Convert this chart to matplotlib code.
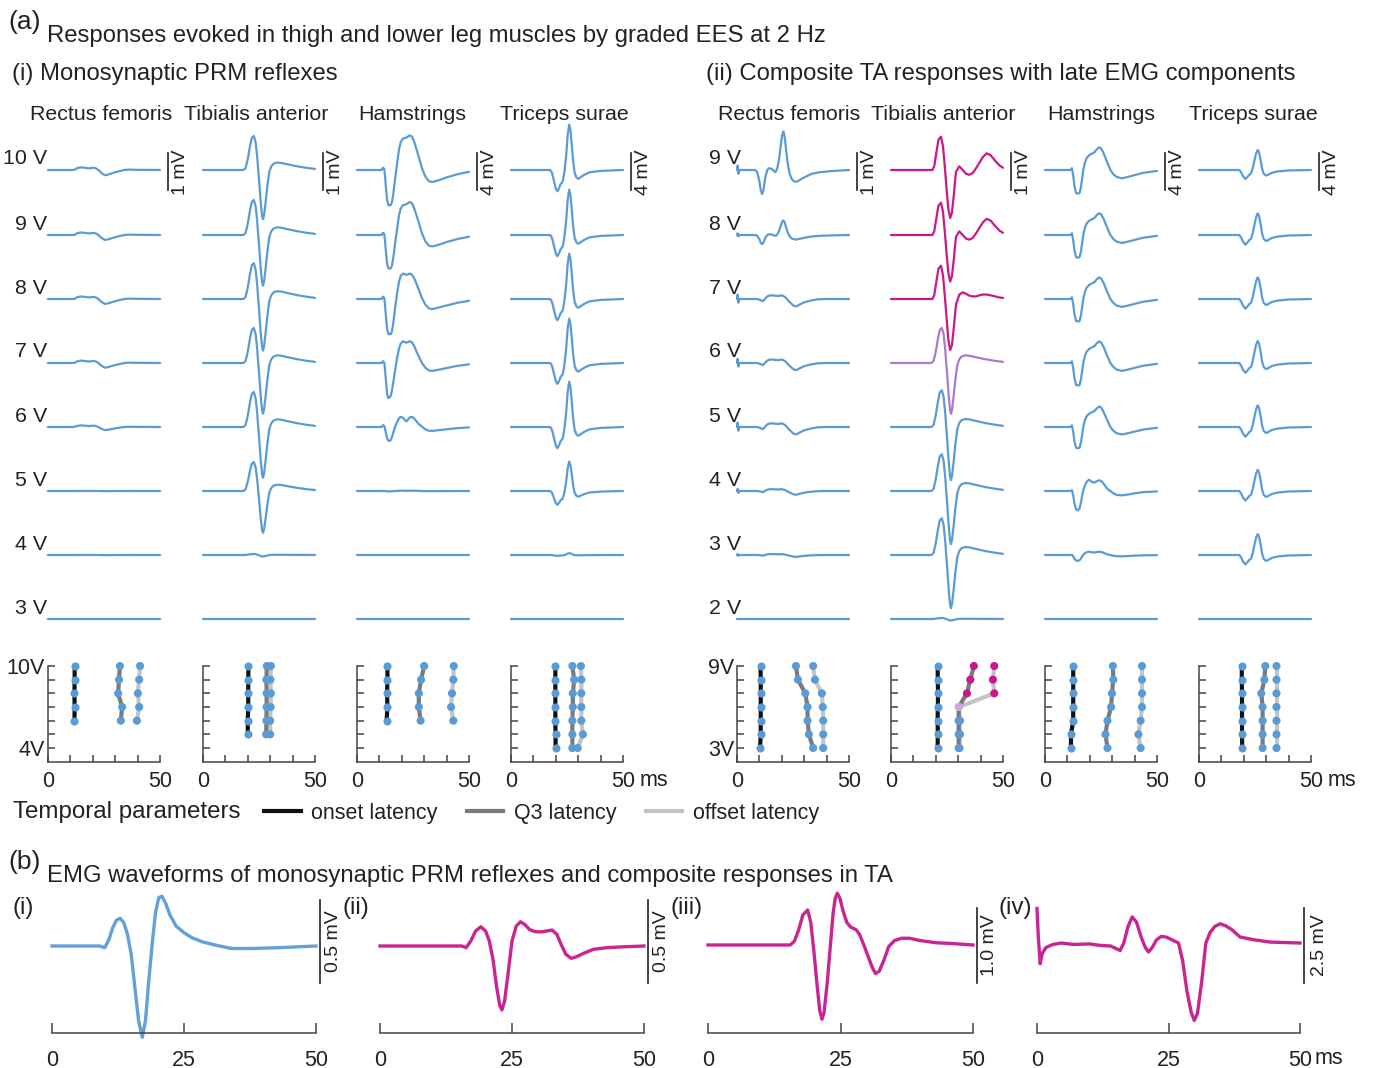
import matplotlib.pyplot as plt

plt.rcParams['font.family'] = ['Liberation Sans', 'DejaVu Sans']

W, H = 1374, 1068
BLUE = '#5b9bd5'
MAG = '#c8188c'
LAV = '#a97cc9'
LAV_DOT = '#cfa6e6'
INK = '#222222'

# ---------------- (a) waveform templates: time (ms), amplitude (mV) ----------------
VOLTS_I = [10, 9, 8, 7, 6, 5, 4, 3]
VOLTS_II = [9, 8, 7, 6, 5, 4, 3, 2]

RF_I_T = [0, 11, 12, 13, 14.5, 16, 17.5, 18.5, 19.5, 20.5, 21.5, 22.5, 23.5, 24.5, 25.5, 26.5, 28, 30, 32, 34, 36, 40, 50]
RF_I_V = [0, 0, 0.01, 0.05, 0.07, 0.065, 0.05, 0.045, 0.055, 0.06, 0.04, 0.0, -0.06, -0.11, -0.14, -0.13,
          -0.1, -0.06, -0.03, 0.0, 0.01, 0.005, 0]
RF_I_ROWS = [('A', 1.0), ('A', 0.95), ('A', 0.95), ('A', 0.9), ('A', 0.6), ('A', 0.02), ('A', 0.02), ('A', 0.0)]

TA_I_T = [0, 18, 19, 20, 21, 21.8, 22.7, 23.5, 24.2, 25, 25.8, 26.4, 26.8, 27.3, 28, 28.8, 29.6, 30.5,
          31.5, 33, 35, 38, 42, 46, 50]
TA_I_V = [0, 0, 0.05, 0.3, 0.65, 0.87, 0.92, 0.75, 0.35, -0.25, -0.9, -1.25, -1.33, -1.2, -0.85, -0.4,
          -0.05, 0.1, 0.17, 0.2, 0.19, 0.15, 0.1, 0.06, 0.03]
TA_I_ROWS = [('A', 1.0), ('A', 1.03), ('A', 1.05), ('A', 1.03), ('A', 1.03), ('A', 0.85), ('A', 0.03), ('A', 0.0)]

HAM_I_T = [0, 11, 11.6, 12.2, 12.8, 13.4, 14, 15, 15.6, 16.2, 17, 18, 18.8, 19.5, 20.5, 22, 23.6, 24.6,
           25.6, 26.6, 27.6, 29, 30.5, 32, 33.5, 36, 40, 45, 50]
HAM_I_A = [0, 0, 0.25, 0.1, -1.5, -3.2, -3.8, -3.8, -3.5, -2.6, -1.0, 0.9, 2.3, 3.0, 3.4, 3.5, 3.75, 3.6,
           3.0, 2.2, 1.4, 0.2, -0.7, -1.2, -1.3, -1.15, -0.8, -0.45, -0.2]
HAM_I_B = [0, 0, 0.25, 0.1, -1.5, -3.2, -3.8, -3.8, -3.5, -2.6, -1.0, 0.8, 1.9, 2.5, 2.75, 2.6, 2.75, 2.6,
           2.2, 1.6, 1.0, 0.1, -0.6, -1.0, -1.1, -0.95, -0.7, -0.4, -0.2]
HAM_I_C = [0, 0, 0.2, 0.05, -1.5, -3.3, -3.8, -3.6, -3.0, -2.1, -0.8, 0.7, 1.6, 2.1, 2.35, 2.2, 2.35, 2.2,
           1.8, 1.2, 0.7, 0.0, -0.5, -0.8, -0.85, -0.75, -0.55, -0.3, -0.15]
HAM_I_D = [0, 0, 0.2, 0.1, -0.5, -1.2, -1.5, -1.45, -1.1, -0.6, 0.0, 0.6, 0.95, 1.1, 1.0, 0.6, 1.05, 1.1,
           0.9, 0.6, 0.3, 0.05, -0.25, -0.4, -0.43, -0.35, -0.25, -0.12, -0.05]
HAM_I_ROWS = [('A', 1.0), ('A', 0.95), ('B', 1.0), ('C', 1.0), ('D', 1.0), ('D', 0.03), ('D', 0.0), ('D', 0.0)]

TS_I_T = [0, 17.5, 18.3, 19.2, 20, 20.7, 21.4, 22.2, 23, 23.8, 24.6, 25.3, 26, 26.6, 27.2, 27.8, 28.4,
          29.2, 30, 31, 32.5, 35, 40, 50]
TS_I_V = [0, 0, -0.3, -1.2, -2.0, -2.3, -2.0, -1.5, -1.3, -0.3, 1.5, 3.8, 4.9, 4.2, 2.5, 0.8, -0.3,
          -0.8, -0.95, -0.8, -0.55, -0.25, -0.1, 0]
TS_I_ROWS = [('A', 1.0), ('A', 1.0), ('A', 1.0), ('A', 0.98), ('A', 1.0), ('A', 0.65), ('A', 0.04), ('A', 0.0)]

RF_II_A_T = [0, 0.3, 0.6, 1, 8, 9, 10, 10.6, 11.2, 11.8, 12.6, 13.5, 14.4, 15.5, 16.5, 17.2, 18, 18.8,
             19.5, 20.2, 20.7, 21.3, 22, 22.7, 23.5, 24.5, 25.5, 26.5, 28, 30, 33.5, 37, 42, 50]
RF_II_A_V = [0, 0.12, -0.1, 0, 0, -0.05, -0.3, -0.55, -0.65, -0.55, -0.2, 0.0, 0.05, 0.03, -0.03, -0.06,
             0.05, 0.3, 0.65, 0.95, 1.04, 0.9, 0.5, 0.15, -0.1, -0.25, -0.31, -0.32, -0.27, -0.2, -0.1,
             -0.06, -0.03, 0]
RF_II_B_T = [0, 0.3, 0.6, 1, 9, 10.5, 11.5, 12.5, 13.5, 15, 17, 18.5, 20, 21.5, 23, 24.5, 25.5, 26.5,
             28, 30, 33, 36, 40, 50]
RF_II_B_V = [0, 0.12, -0.1, 0, 0, -0.03, -0.06, 0.0, 0.07, 0.1, 0.09, 0.08, 0.1, 0.05, -0.05, -0.14,
             -0.19, -0.2, -0.15, -0.09, -0.04, -0.01, 0, 0]
RF_II_ROWS = [('A', 1.0), ('A', 0.38), ('B', 1.0), ('B', 0.95), ('B', 1.0), ('B', 0.5), ('B', 0.25), ('B', 0.0)]

TA_II_T = [0, 18.5, 19.3, 20.2, 21.2, 22.3, 23.2, 24, 24.8, 25.6, 26.4, 27.2, 28, 29, 30.5, 32, 33.5,
           35, 36.5, 38, 39.5, 41, 42.7, 44.5, 46.5, 48.5, 50]
TA_II_A = [0, 0, 0.1, 0.45, 0.82, 0.9, 0.65, 0.1, -0.5, -1.05, -1.3, -1.15, -0.7, -0.05, 0.1, 0.0, -0.1,
           -0.13, -0.08, 0.05, 0.2, 0.35, 0.45, 0.4, 0.25, 0.12, 0.06]
TA_II_B = [0, 0, 0.1, 0.45, 0.82, 0.9, 0.65, 0.1, -0.5, -1.1, -1.38, -1.25, -0.8, -0.15, 0.12, 0.18, 0.14,
           0.09, 0.07, 0.07, 0.1, 0.12, 0.12, 0.1, 0.07, 0.04, 0.03]
TA_II_ROWS = [('A', 1.0), ('A', 0.97), ('B', 1.0), ('C', 1.03), ('C', 1.08), ('C', 1.08), ('C', 1.08), ('C', 0.03)]
TA_II_COLORS = [MAG, MAG, MAG, LAV, BLUE, BLUE, BLUE, BLUE]

HAM_II_T = [0, 11.5, 12, 12.6, 13.2, 13.9, 14.6, 15.4, 16, 16.6, 17.1, 17.8, 18.6, 19.7, 20.8, 22, 23,
            24.1, 25, 26, 27, 28, 29.2, 30.5, 32, 34.4, 37, 40, 44, 50]
HAM_II_A = [0, 0, 0.2, -0.6, -1.8, -2.5, -2.55, -2.5, -1.9, -0.9, 0, 0.8, 1.3, 1.6, 1.75, 1.9, 2.2, 2.45,
            2.35, 1.9, 1.3, 0.7, 0.0, -0.45, -0.75, -0.9, -0.75, -0.55, -0.3, -0.1]
HAM_II_B = [0, 0, 0.1, -0.5, -1.4, -2.0, -2.1, -1.9, -1.3, -0.5, 0.1, 0.6, 1.0, 1.22, 1.0, 0.9, 1.05, 1.15,
            1.1, 0.85, 0.5, 0.2, 0.0, -0.25, -0.42, -0.47, -0.38, -0.25, -0.12, -0.05]
HAM_II_ROWS = [('A', 1.0), ('A', 0.96), ('A', 0.95), ('A', 0.95), ('A', 0.9), ('B', 1.0), ('B', 0.3), ('B', 0.0)]

TS_II_T = [0, 18, 18.8, 19.6, 20.7, 21.6, 22.5, 23.3, 24.1, 24.8, 25.5, 26.2, 26.8, 27.5, 28.1, 28.9,
           29.9, 31, 32.5, 35.2, 40, 50]
TS_II_V = [0, 0, -0.25, -0.65, -0.97, -0.75, -0.5, -0.35, 0.3, 1.1, 1.8, 2.16, 1.9, 1.1, 0.2, -0.4,
           -0.6, -0.5, -0.3, -0.15, -0.05, 0]
TS_II_ROWS = [('A', 1.0), ('A', 1.08), ('A', 1.08), ('A', 1.1), ('A', 1.08), ('A', 1.06), ('A', 1.05), ('A', 0.0)]

# ---------------- (a) latencies (ms) ----------------
RF_I_LV = [10, 9, 8, 7, 6]
RF_I_ON = [11.9, 11.9, 11.8, 11.9, 11.8]
RF_I_Q3 = [32.1, 31.7, 31.3, 33.1, 32.5]
RF_I_OFF = [41.1, 40.7, 40.1, 40.7, 39.7]

TA_I_LV = [10, 9, 8, 7, 6, 5]
TA_I_ON = [20.3, 20.2, 20.2, 20.2, 20.0, 20.0]
TA_I_Q3 = [28.5, 28.3, 28.4, 28.4, 28.3, 28.2]
TA_I_OFF = [30.3, 30.1, 30.3, 30.2, 30.0, 30.0]

HAM_I_LV = [10, 9, 8, 7, 6]
HAM_I_ON = [13.6, 13.6, 13.4, 13.6, 13.2]
HAM_I_Q3 = [30.0, 28.6, 27.6, 27.6, 28.4]
HAM_I_OFF = [43.2, 43.0, 42.4, 42.0, 43.0]

TS_I_LV = [10, 9, 8, 7, 6, 5, 4]
TS_I_ON = [19.8, 19.8, 19.8, 19.8, 19.8, 19.9, 19.9]
TS_I_Q3 = [27.4, 28.2, 27.6, 27.6, 27.4, 27.4, 27.4]
TS_I_OFF = [31.2, 31.4, 31.4, 31.4, 31.4, 32.1, 29.8]

LV_II = [9, 8, 7, 6, 5, 4, 3]
RF_II_ON = [10.5, 10.6, 10.6, 10.6, 10.6, 10.6, 10.3]
RF_II_Q3 = [26.3, 27.2, 30.5, 31.5, 31.5, 32.1, 34.0]
RF_II_OFF = [34.0, 34.8, 37.9, 38.3, 38.5, 38.5, 38.5]

TA_II_ON = [20.8, 20.9, 21.0, 20.9, 20.8, 20.9, 20.8]
TA_II_Q3 = [37.0, 35.4, 33.9, 30.2, 30.2, 30.2, 30.2]
TA_II_OFF = [46.1, 45.5, 46.1, 30.3, 30.8, 30.8, 30.6]
TA_II_DOTS = [MAG, MAG, MAG, LAV_DOT, BLUE, BLUE, BLUE]

HAM_II_ON = [12.6, 12.6, 12.6, 12.6, 12.6, 11.6, 11.6]
HAM_II_Q3 = [30.3, 30.5, 29.9, 29.5, 27.9, 27.0, 27.9]
HAM_II_OFF = [43.3, 43.3, 43.3, 43.3, 42.7, 41.7, 42.7]

TS_II_ON = [19.1, 19.1, 19.2, 19.2, 19.2, 19.2, 19.3]
TS_II_Q3 = [29.6, 29.2, 27.8, 28.4, 28.4, 28.4, 28.4]
TS_II_OFF = [34.6, 34.6, 34.6, 34.6, 34.6, 34.6, 34.6]

# ---------------- (b) waveforms ----------------
B_I_T = [0, 9, 10, 10.8, 11.5, 12.2, 12.9, 13.6, 14.3, 15, 15.7, 16.4, 17.1, 17.7, 18.3, 19, 19.6, 20.2,
         20.8, 21.5, 22.3, 23.5, 25, 26.5, 28.5, 31, 34, 38, 43, 50]
B_I_V = [0, 0, -0.01, 0.04, 0.11, 0.155, 0.167, 0.14, 0.07, -0.05, -0.25, -0.45, -0.55, -0.45, -0.22,
         0.02, 0.2, 0.29, 0.3, 0.26, 0.19, 0.12, 0.08, 0.05, 0.025, 0.005, -0.015, -0.015, -0.01, 0]
B_II_T = [0, 15.5, 16.3, 17.2, 18.1, 19.1, 20, 20.7, 21.4, 22.1, 22.7, 23.1, 23.6, 24.2, 25, 25.8, 26.6,
          27.4, 28.3, 29.4, 30.5, 31.5, 32.6, 33.5, 34.3, 35.2, 36.2, 37.2, 38.5, 40.4, 43, 46, 50]
B_II_V = [0, 0, -0.01, 0.03, 0.09, 0.116, 0.09, 0.03, -0.08, -0.25, -0.36, -0.385, -0.33, -0.18, 0.03,
          0.12, 0.146, 0.13, 0.1, 0.086, 0.085, 0.09, 0.096, 0.07, 0.01, -0.05, -0.074, -0.065, -0.045,
          -0.02, -0.01, -0.005, 0]
B_III_T = [0, 15.5, 16.3, 17.1, 17.9, 18.8, 19.4, 20, 20.6, 21.1, 21.5, 21.9, 22.5, 23.1, 23.6, 24, 24.4,
           24.9, 25.5, 26.2, 26.9, 27.5, 28, 28.6, 29.4, 30.2, 31, 31.6, 32.3, 33.2, 34.1, 35.2, 36.5, 38,
           40, 43, 46, 50]
B_III_V = [0, 0, 0.05, 0.2, 0.4, 0.467, 0.3, -0.1, -0.55, -0.88, -0.99, -0.9, -0.5, 0.0, 0.42, 0.62, 0.69,
           0.62, 0.45, 0.3, 0.24, 0.22, 0.2, 0.14, 0.0, -0.15, -0.3, -0.38, -0.35, -0.2, -0.02, 0.06, 0.09,
           0.09, 0.06, 0.03, 0.02, 0]
B_IV_T = [0, 0.25, 0.6, 1.0, 1.7, 3, 4.6, 7, 10, 12, 14, 15.2, 15.8, 16.5, 17.3, 18.1, 18.9, 19.8, 20.6,
          21.2, 21.9, 22.7, 23.6, 24.5, 25.5, 26.9, 27.7, 28.5, 29.3, 29.9, 30.5, 31.3, 32.1, 32.9, 33.8,
          34.8, 35.8, 37, 38.6, 41.5, 44.4, 50]
B_IV_V = [1.15, 0.2, -0.69, -0.35, -0.15, -0.05, 0.0, -0.05, -0.03, -0.08, -0.1, -0.2, -0.25, 0.0, 0.55,
          0.87, 0.7, 0.2, -0.15, -0.3, -0.15, 0.1, 0.22, 0.2, 0.12, 0.0, -0.6, -1.6, -2.3, -2.58, -2.35,
          -1.3, 0.0, 0.35, 0.55, 0.64, 0.58, 0.45, 0.2, 0.1, 0.03, 0.0]

fig = plt.figure(figsize=(W / 100, H / 100), dpi=100)
fig.patch.set_facecolor('white')


def px_axes(x0, y0, x1, y1):
    ax = fig.add_axes([x0 / W, 1 - y1 / H, (x1 - x0) / W, (y1 - y0) / H])
    ax.patch.set_alpha(0)
    return ax


def ftext(x, y, s, **kw):
    kw.setdefault('va', 'center')
    kw.setdefault('color', INK)
    fig.text(x / W, 1 - y / H, s, **kw)


PX_BAR = 37.0
ROW_PX = [170, 235, 299, 363, 427, 491, 555, 619]


def trace_column(x0, templates, rows, bar_mv, colors=None):
    ax = px_axes(x0, 120, x0 + 112, 645)
    ax.set_xlim(0, 50)
    ax.set_ylim(-(645 - 170) / PX_BAR * bar_mv, (170 - 120) / PX_BAR * bar_mv)
    ax.axis('off')
    for i, (key, gain) in enumerate(rows):
        t, v = templates[key]
        off = -(ROW_PX[i] - 170) / PX_BAR * bar_mv
        c = colors[i] if colors else BLUE
        ax.plot(t, [off + gain * a for a in v], color=c, lw=1.6, clip_on=False,
                solid_joinstyle='round', solid_capstyle='round')
    # scale bar
    ax.plot([53.6, 53.6], [-0.54 * bar_mv, 0.46 * bar_mv], color=INK, lw=1.2, clip_on=False)
    ax.text(59.3, -0.05 * bar_mv, f'{bar_mv} mV', rotation=90, ha='center', va='center',
            fontsize=14, color=INK)


def latency_axes(x0, lv_ticks, lv, on, q3, off, dots=None, ylab=None, ms=False):
    ax = px_axes(x0, 666, x0 + 112, 761.7)
    ax.set_xlim(0, 50)
    ax.set_ylim(lv_ticks[-1] - 1, lv_ticks[0])
    for s in ['top', 'right']:
        ax.spines[s].set_visible(False)
    for s in ['left', 'bottom']:
        ax.spines[s].set_color('#444444')
        ax.spines[s].set_linewidth(1.1)
    ax.set_xticks([0, 10, 20, 30, 40, 50])
    ax.set_xticklabels(['0', '', '', '', '', '50'])
    ax.set_yticks(lv_ticks)
    if ylab:
        ax.set_yticklabels([ylab[0]] + [''] * (len(lv_ticks) - 2) + [ylab[1]])
    else:
        ax.set_yticklabels([])
    ax.tick_params(direction='in', length=5, width=1.1, color='#444444', labelsize=15.5,
                   labelcolor=INK, pad=2)
    ax.tick_params(axis='x', pad=7)
    ax.plot(off, lv, color='#c4c4c4', lw=3, clip_on=False, zorder=2)
    ax.plot(q3, lv, color='#7a7a7a', lw=3, clip_on=False, zorder=3)
    ax.plot(on, lv, color='#111111', lw=3, clip_on=False, zorder=4)
    dc = dots if dots else [BLUE] * len(lv)
    ax.scatter(on, lv, s=34, color=BLUE, zorder=5, clip_on=False, linewidths=0)
    ax.scatter(q3, lv, s=34, color=dc, zorder=5, clip_on=False, linewidths=0)
    ax.scatter(off, lv, s=34, color=dc, zorder=5, clip_on=False, linewidths=0)
    if ms:
        ftext(x0 + 129, 781, 'ms', fontsize=15.5, ha='left')


def emg_panel(x0, x1, base_y, px_per_mv, t, v, color, bar_mv, bar_top, bar_bot, lab_dx, ms=False):
    ax = px_axes(x0, 885, x1, 1033)
    ax.set_xlim(0, 50)
    ax.set_ylim(-(1033 - base_y) / px_per_mv, (base_y - 885) / px_per_mv)
    for s in ['top', 'right', 'left']:
        ax.spines[s].set_visible(False)
    ax.spines['bottom'].set_color('#444444')
    ax.spines['bottom'].set_linewidth(1.1)
    ax.set_yticks([])
    ax.set_xticks([0, 25, 50])
    ax.tick_params(axis='x', direction='in', length=7, width=1.1, color='#444444',
                   labelsize=15.5, labelcolor=INK, pad=12)
    ax.plot(t, v, color=color, lw=2.4, clip_on=False, solid_joinstyle='round', alpha=0.95)
    ppms = (x1 - x0) / 50.0
    bx = 50 + 3.5 / ppms
    ax.plot([bx, bx], [(base_y - bar_bot) / px_per_mv, (base_y - bar_top) / px_per_mv],
            color=INK, lw=1.2, clip_on=False)
    ax.text(50 + lab_dx / ppms, (base_y - (bar_top + bar_bot) / 2) / px_per_mv, f'{bar_mv} mV',
            rotation=90, ha='center', va='center', fontsize=14, color=INK)
    if ms:
        ftext(x1 + 15, 1059, 'ms', fontsize=15.5, ha='left')


# ---------------- titles ----------------
ftext(8, 22, '(a)', fontsize=19, ha='left')
ftext(47, 36, 'Responses evoked in thigh and lower leg muscles by graded EES at 2 Hz', fontsize=17.2, ha='left')
ftext(12, 74, '(i) Monosynaptic PRM reflexes', fontsize=17.2, ha='left')
ftext(706, 74, '(ii) Composite TA responses with late EMG components', fontsize=17.2, ha='left')

HEAD_X_I = [101, 256, 412, 564]
HEAD_X_II = [789, 943, 1101, 1253]
MUSCLES = ['Rectus femoris', 'Tibialis anterior', 'Hamstrings', 'Triceps surae']
for xs in [HEAD_X_I, HEAD_X_II]:
    for x, name in zip(xs, MUSCLES):
        ftext(x, 114, name, fontsize=15.4, ha='center')

for i, vlt in enumerate(VOLTS_I):
    ftext(47, ROW_PX[i] - 11, f'{vlt} V', fontsize=15.4, ha='right')
for i, vlt in enumerate(VOLTS_II):
    ftext(741, ROW_PX[i] - 11, f'{vlt} V', fontsize=15.4, ha='right')

COL_X_I = [48, 203, 357, 511]
COL_X_II = [737, 891, 1045, 1199]

trace_column(COL_X_I[0], {'A': (RF_I_T, RF_I_V)}, RF_I_ROWS, 1)
trace_column(COL_X_I[1], {'A': (TA_I_T, TA_I_V)}, TA_I_ROWS, 1)
trace_column(COL_X_I[2], {'A': (HAM_I_T, HAM_I_A), 'B': (HAM_I_T, HAM_I_B),
                          'C': (HAM_I_T, HAM_I_C), 'D': (HAM_I_T, HAM_I_D)}, HAM_I_ROWS, 4)
trace_column(COL_X_I[3], {'A': (TS_I_T, TS_I_V)}, TS_I_ROWS, 4)

trace_column(COL_X_II[0], {'A': (RF_II_A_T, RF_II_A_V), 'B': (RF_II_B_T, RF_II_B_V)}, RF_II_ROWS, 1)
trace_column(COL_X_II[1], {'A': (TA_II_T, TA_II_A), 'B': (TA_II_T, TA_II_B), 'C': (TA_I_T, TA_I_V)},
             TA_II_ROWS, 1, colors=TA_II_COLORS)
trace_column(COL_X_II[2], {'A': (HAM_II_T, HAM_II_A), 'B': (HAM_II_T, HAM_II_B)}, HAM_II_ROWS, 4)
trace_column(COL_X_II[3], {'A': (TS_II_T, TS_II_V)}, TS_II_ROWS, 4)

# latency plots
LV_TICKS_I = [10, 9, 8, 7, 6, 5, 4]
latency_axes(COL_X_I[0], LV_TICKS_I, RF_I_LV, RF_I_ON, RF_I_Q3, RF_I_OFF, ylab=('10V', '4V'))
latency_axes(COL_X_I[1], LV_TICKS_I, TA_I_LV, TA_I_ON, TA_I_Q3, TA_I_OFF)
latency_axes(COL_X_I[2], LV_TICKS_I, HAM_I_LV, HAM_I_ON, HAM_I_Q3, HAM_I_OFF)
latency_axes(COL_X_I[3], LV_TICKS_I, TS_I_LV, TS_I_ON, TS_I_Q3, TS_I_OFF, ms=True)

latency_axes(COL_X_II[0], LV_II, LV_II, RF_II_ON, RF_II_Q3, RF_II_OFF, ylab=('9V', '3V'))
latency_axes(COL_X_II[1], LV_II, LV_II, TA_II_ON, TA_II_Q3, TA_II_OFF, dots=TA_II_DOTS)
latency_axes(COL_X_II[2], LV_II, LV_II, HAM_II_ON, HAM_II_Q3, HAM_II_OFF)
latency_axes(COL_X_II[3], LV_II, LV_II, TS_II_ON, TS_II_Q3, TS_II_OFF, ms=True)

# legend
ftext(13, 812, 'Temporal parameters', fontsize=17.4, ha='left')
handles = [plt.Line2D([], [], color='#111111', lw=3),
           plt.Line2D([], [], color='#7a7a7a', lw=3),
           plt.Line2D([], [], color='#c4c4c4', lw=3)]
fig.legend(handles, ['onset latency', 'Q3 latency', 'offset latency'], ncol=3, frameon=False,
           loc='center left', bbox_to_anchor=(264 / W, 1 - 813 / H), fontsize=15.5,
           handlelength=1.7, handletextpad=0.5, columnspacing=1.35, borderpad=0, borderaxespad=0)
for txt in fig.legends[0].get_texts():
    txt.set_color(INK)

# ---------------- (b) ----------------
ftext(8, 862, '(b)', fontsize=19, ha='left')
ftext(47, 876, 'EMG waveforms of monosynaptic PRM reflexes and composite responses in TA', fontsize=17.2, ha='left')
ftext(12, 908, '(i)', fontsize=17.5, ha='left')
ftext(343, 908, '(ii)', fontsize=17.5, ha='left')
ftext(670, 908, '(iii)', fontsize=17.5, ha='left')
ftext(999, 908, '(iv)', fontsize=17.5, ha='left')

emg_panel(52, 316, 946, 166, B_I_T, B_I_V, BLUE, 0.5, 900, 983, 17)
emg_panel(380, 644, 946, 166, B_II_T, B_II_V, MAG, 0.5, 900, 983, 17)
emg_panel(708, 973, 945, 75, B_III_T, B_III_V, MAG, 1.0, 908, 983, 17)
emg_panel(1037, 1300, 943, 30, B_IV_T, B_IV_V, MAG, 2.5, 908, 983, 20, ms=True)

fig.savefig('out.png', dpi=100, facecolor='white')
